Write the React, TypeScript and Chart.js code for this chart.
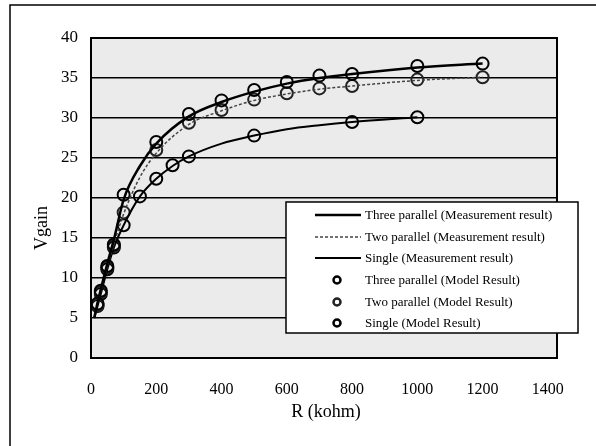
import React, { useEffect, useRef } from "react";
import { Chart, registerables } from "chart.js";

Chart.register(...registerables);

const xTicks = [0, 200, 400, 600, 800, 1000, 1200, 1400];
const yTicks = [0, 5, 10, 15, 20, 25, 30, 35, 40];

const measR3 = [10, 20, 30, 50, 70, 100, 150, 200, 300, 400, 500, 600, 700, 800, 1000, 1200];
const measV3 = [5.0, 6.9, 8.6, 11.8, 14.8, 19.8, 24.0, 26.8, 30.2, 32.0, 33.3, 34.3, 35.0, 35.5, 36.3, 36.8];
const measR2 = [10, 20, 30, 50, 70, 100, 150, 200, 300, 400, 500, 600, 700, 800, 1000, 1200];
const measV2 = [5.0, 6.7, 8.3, 11.4, 14.2, 18.0, 22.6, 25.6, 29.2, 30.9, 32.2, 33.0, 33.6, 34.0, 34.7, 35.1];
const measR1 = [10, 20, 30, 50, 70, 100, 150, 200, 250, 300, 400, 500, 600, 700, 800, 1000];
const measV1 = [5.0, 6.5, 8.0, 11.1, 13.8, 16.6, 20.2, 22.4, 24.0, 25.2, 26.8, 27.8, 28.6, 29.1, 29.5, 30.1];

const modelR3 = [20, 30, 50, 70, 100, 200, 300, 400, 500, 600, 700, 800, 1000, 1200];
const modelV3 = [6.8, 8.4, 11.5, 14.2, 20.4, 27.0, 30.5, 32.2, 33.5, 34.5, 35.3, 35.5, 36.5, 36.8];
const modelR2 = [20, 30, 50, 70, 100, 200, 300, 400, 500, 600, 700, 800, 1000, 1200];
const modelV2 = [6.6, 8.2, 11.3, 14.0, 18.2, 26.0, 29.4, 31.0, 32.3, 33.1, 33.7, 34.0, 34.8, 35.1];
const modelR1 = [20, 30, 50, 70, 100, 150, 200, 250, 300, 500, 800, 1000];
const modelV1 = [6.5, 8.0, 11.1, 13.8, 16.6, 20.2, 22.4, 24.1, 25.2, 27.8, 29.5, 30.1];

const legendLabels = [
  "Three parallel (Measurement result)",
  "Two parallel (Measurement result)",
  "Single (Measurement result)",
  "Three parallel (Model Result)",
  "Two parallel (Model Result)",
  "Single (Model Result)",
];

const pts = (xs: number[], ys: number[]) => xs.map((x, i) => ({ x, y: ys[i] }));

const SERIF = "'Liberation Serif', 'Times New Roman', serif";

export default function App() {
  const ref = useRef<HTMLCanvasElement | null>(null);
  useEffect(() => {
    document.body.style.margin = "0";
    const canvas = ref.current!;
    const lineStyle = (color: string, width: number, dash: number[]) => ({
      type: "line" as const,
      showLine: true,
      borderColor: color,
      borderWidth: width,
      borderDash: dash,
      pointRadius: 0,
      tension: 0.4,
      cubicInterpolationMode: "monotone" as const,
      fill: false,
    });
    const markerStyle = (color: string) => ({
      type: "scatter" as const,
      showLine: false,
      borderColor: color,
      backgroundColor: "rgba(0,0,0,0)",
      borderWidth: 2,
      pointRadius: 6,
    });

    const decor = {
      id: "decor",
      beforeDraw(chart: any) {
        const { ctx, chartArea: a } = chart;
        ctx.save();
        ctx.fillStyle = "#ffffff";
        ctx.fillRect(0, 0, chart.width, chart.height);
        ctx.fillStyle = "#ebebeb";
        ctx.fillRect(a.left, a.top, a.right - a.left, a.bottom - a.top);
        // outer frame
        ctx.strokeStyle = "#000";
        ctx.lineWidth = 1.5;
        ctx.beginPath();
        ctx.moveTo(10, 446);
        ctx.lineTo(10, 5);
        ctx.lineTo(596, 5);
        ctx.stroke();
        // titles
        ctx.fillStyle = "#000";
        ctx.font = `18px ${SERIF}`;
        ctx.textAlign = "center";
        ctx.textBaseline = "middle";
        ctx.fillText("R (kohm)", 326, 412);
        ctx.translate(42, 228);
        ctx.rotate(-Math.PI / 2);
        ctx.fillText("Vgain", 0, 0);
        ctx.restore();
      },
      afterDatasetsDraw(chart: any) {
        const { ctx, chartArea: a } = chart;
        ctx.save();
        ctx.strokeStyle = "#000";
        ctx.lineWidth = 2;
        ctx.strokeRect(a.left, a.top, a.right - a.left, a.bottom - a.top);
        // legend
        const bx = 286, by = 202, bw = 292, bh = 131;
        ctx.fillStyle = "#fff";
        ctx.fillRect(bx, by, bw, bh);
        ctx.lineWidth = 1.5;
        ctx.strokeRect(bx, by, bw, bh);
        const rows = [215, 237, 258, 280, 302, 323];
        ctx.font = `13px ${SERIF}`;
        ctx.textAlign = "left";
        ctx.textBaseline = "middle";
        chart.data.datasets.forEach((ds: any, i: number) => {
          const y = rows[i];
          if (ds.showLine) {
            ctx.strokeStyle = ds.borderColor;
            ctx.lineWidth = ds.borderWidth;
            ctx.setLineDash(ds.borderDash || []);
            ctx.beginPath();
            ctx.moveTo(315, y);
            ctx.lineTo(361, y);
            ctx.stroke();
            ctx.setLineDash([]);
          } else {
            ctx.strokeStyle = ds.borderColor;
            ctx.lineWidth = 2.5;
            ctx.beginPath();
            ctx.arc(337, y, 3.5, 0, Math.PI * 2);
            ctx.stroke();
          }
          ctx.fillStyle = "#000";
          ctx.fillText(legendLabels[i], 365, y + 1);
        });
        ctx.restore();
      },
    };

    const chart = new Chart(canvas, {
      type: "scatter",
      data: {
        datasets: [
          { label: legendLabels[0], data: pts(measR3, measV3), ...lineStyle("#000", 2.5, []) },
          { label: legendLabels[1], data: pts(measR2, measV2), ...lineStyle("#444", 1.5, [3, 2]) },
          { label: legendLabels[2], data: pts(measR1, measV1), ...lineStyle("#000", 2, []) },
          { label: legendLabels[3], data: pts(modelR3, modelV3), ...markerStyle("#000") },
          { label: legendLabels[4], data: pts(modelR2, modelV2), ...markerStyle("#222") },
          { label: legendLabels[5], data: pts(modelR1, modelV1), ...markerStyle("#000") },
        ] as any,
      },
      options: {
        animation: false,
        responsive: false,
        events: [],
        layout: { padding: { left: 0, top: 38, right: 39, bottom: 0 } },
        plugins: { legend: { display: false }, tooltip: { enabled: false } },
        scales: {
          x: {
            type: "linear",
            min: 0,
            max: 1428,
            afterBuildTicks: (s: any) => {
              s.ticks = xTicks.map((v) => ({ value: v }));
            },
            afterFit: (s: any) => {
              s.height = 88;
            },
            grid: { display: false, drawTicks: false },
            border: { display: false },
            ticks: {
              color: "#000",
              padding: 22,
              font: { family: SERIF, size: 16 },
              maxRotation: 0,
              autoSkip: false,
              callback: (v: any) => String(v),
            },
          },
          y: {
            type: "linear",
            min: 0,
            max: 40,
            afterBuildTicks: (s: any) => {
              s.ticks = yTicks.map((v) => ({ value: v }));
            },
            afterFit: (s: any) => {
              s.width = 91;
            },
            grid: { color: "#000", lineWidth: 1.6, drawTicks: false },
            border: { display: false },
            ticks: {
              color: "#000",
              padding: 13,
              font: { family: SERIF, size: 17 },
              callback: (v: any) => String(v),
            },
          },
        },
      },
      plugins: [decor],
    });
    return () => chart.destroy();
  }, []);
  return <canvas ref={ref} width={596} height={446} style={{ display: "block" }} />;
}
